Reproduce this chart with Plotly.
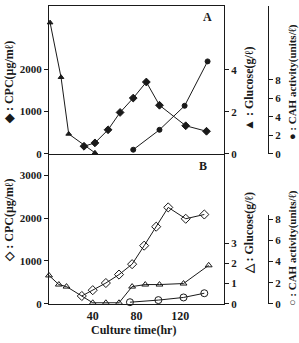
import plotly.graph_objects as go

# ---------------- data ----------------
# Panel A (filled symbols)
a_cpc_t = [32, 42, 54, 65, 77, 89, 101, 125, 144]
a_cpc = [180, 260, 570, 980, 1320, 1700, 1150, 665, 535]
a_glu_t = [1, 11, 18, 42]
a_glu = [6.25, 3.65, 0.95, 0.05]
a_cah_t = [77, 101, 124, 145]
a_cah = [0.45, 2.6, 5.2, 10.0]

# Panel B (open symbols)
b_cpc_t = [30, 40, 52, 64, 76, 87, 98, 109, 125, 142]
b_cpc = [182, 318, 485, 682, 925, 1357, 1800, 2250, 1985, 2085]
b_glu_t = [0, 9, 16, 40, 52, 64, 76, 88, 101, 123, 146]
b_glu = [1.4, 0.95, 0.85, 0.05, 0.05, 0.05, 0.85, 0.95, 0.95, 1.0, 1.9]
b_cah_t = [74, 100, 123, 142]
b_cah = [0.15, 0.35, 0.6, 1.0]

x_ticks = [40, 80, 120]
a_cpc_ticks = [0, 1000, 2000]
b_cpc_ticks = [0, 1000, 2000, 3000]
a_glu_ticks = [0, 2, 4]
b_glu_ticks = [0, 1, 2, 3]
cah_ticks = [0, 2, 4, 6, 8]

W, H = 299, 343
def px(x):
    return x / W
def py(y):
    return 1 - y / H

FONT = "Liberation Serif"
ink = "#1a1a1a"
tickfont = dict(family=FONT, size=11, color=ink, weight="bold")

xdom = [px(49), px(224)]
domA = [py(155.5), py(4)]
domB = [py(309), py(155.5)]
domBcah = [py(309), py(218)]

fig = go.Figure()
line = dict(color=ink, width=1)

def tr(x, y, sym, size, xa, ya):
    fig.add_trace(go.Scatter(x=x, y=y, mode="lines+markers", line=line,
                             marker=dict(symbol=sym, size=size, color=ink,
                                         line=dict(color=ink, width=1)),
                             xaxis=xa, yaxis=ya, showlegend=False, cliponaxis=False))

# Panel A
tr(a_glu_t, a_glu, "triangle-up", 5, "x2", "y4")
tr(a_cpc_t, a_cpc, "diamond", 6, "x2", "y3")
tr(a_cah_t, a_cah, "circle", 5, "x2", "y6")
# Panel B
tr(b_glu_t, b_glu, "triangle-up-open", 6, "x", "y2")
tr(b_cpc_t, b_cpc, "diamond-open", 7, "x", "y")
tr(b_cah_t, b_cah, "circle-open", 7, "x", "y5")

axline = dict(showline=True, linecolor=ink, linewidth=1, showgrid=False, zeroline=False)

fig.update_layout(
    width=W, height=H, margin=dict(l=0, r=0, t=0, b=0),
    paper_bgcolor="white", plot_bgcolor="rgba(0,0,0,0)",
    xaxis=dict(domain=xdom, range=[0, 160], anchor="y", tickvals=x_ticks,
               ticks="outside", ticklen=1, tickcolor="rgba(0,0,0,0)",
               tickfont=dict(family=FONT, size=12, color=ink, weight="bold"), **axline),
    xaxis2=dict(domain=xdom, range=[0, 160], anchor="y3", showticklabels=False,
                ticks="", mirror=True, **axline),
    yaxis=dict(domain=domB, range=[0, 3500], anchor="x", tickvals=b_cpc_ticks,
               ticks="outside", ticklen=4, tickcolor=ink, tickfont=tickfont, **axline),
    yaxis2=dict(overlaying="y", side="right", anchor="x", range=[0, 154 / 20.8],
                tickvals=b_glu_ticks, ticks="outside", ticklen=4, tickcolor=ink,
                tickfont=tickfont, **axline),
    yaxis3=dict(domain=domA, range=[0, 3500], anchor="x2", tickvals=a_cpc_ticks,
                ticks="outside", ticklen=4, tickcolor=ink, tickfont=tickfont, **axline),
    yaxis4=dict(overlaying="y3", side="right", anchor="x2", range=[0, 151.5 / 21.5],
                tickvals=a_glu_ticks, ticks="outside", ticklen=4, tickcolor=ink,
                tickfont=tickfont, **axline),
    yaxis5=dict(domain=domBcah, anchor="free", position=px(268), side="right",
                range=[0, 91 / 10.8], tickvals=cah_ticks, ticks="outside", ticklen=4,
                tickcolor=ink, tickfont=tickfont, **axline),
    yaxis6=dict(overlaying="y3", anchor="free", position=px(268), side="right",
                range=[0, 16], tickvals=cah_ticks, ticks="outside", ticklen=4,
                tickcolor=ink, tickfont=tickfont, **axline),
)

def ann(text, x, y, size=12, angle=0):
    fig.add_annotation(text=text, x=px(x), y=py(y), xref="paper", yref="paper",
                       showarrow=False, textangle=angle, xanchor="center", yanchor="middle",
                       font=dict(family=FONT, size=size, color=ink, weight="bold"),
                       borderpad=0)

ann("A", 207, 15, 12)
ann("B", 203, 168, 12)
ann("◆ : CPC(μg/mℓ)", 9, 83, 12, -90)
ann("◇ : CPC(μg/mℓ)", 9, 224, 12, -90)
ann("▲ : Glucose(g/ℓ)", 249, 89, 12, -90)
ann("△ : Glucose(g/ℓ)", 249, 237, 12, -90)
ann("● : CAH activity(units/ℓ)", 292, 82, 11, -90)
ann("○ : CAH activity(units/ℓ)", 292, 252, 11, -90)
ann("Culture time(hr)", 133, 336, 12)

fig.write_html("out.html")
